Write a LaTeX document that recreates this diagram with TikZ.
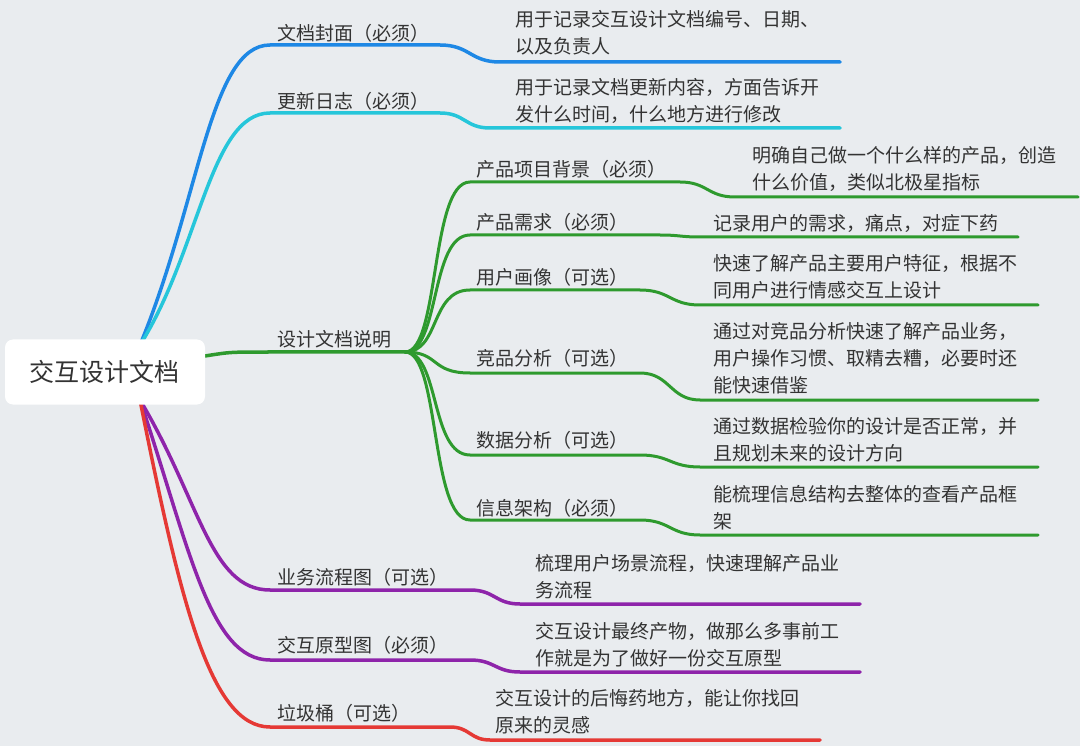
\documentclass[tikz,border=0pt]{standalone}
\usepackage{fontspec}
\setmainfont{Noto Sans CJK SC}
\begin{document}
\begin{tikzpicture}[x=1pt,y=-1pt,
  txt/.style={anchor=west,inner sep=0pt,text=black!80,font=\fontsize{19}{27}\selectfont,align=left},
  br/.style={line width=3.5pt,line cap=round},
  sb/.style={line width=3pt,line cap=round}]
\definecolor{bg}{HTML}{E9ECEF}
\definecolor{cb}{HTML}{1E88E5}\definecolor{cc}{HTML}{26C6DA}
\definecolor{cg}{HTML}{2E9A2E}\definecolor{cp}{HTML}{8E24AA}\definecolor{cr}{HTML}{E53935}
\fill[bg] (0,0) rectangle (1080,746);
\useasboundingbox (0,0) rectangle (1080,746);
\coordinate (rt) at (140,345); \coordinate (rb) at (140,400); \coordinate (rr) at (205,356);
\draw[br,cb] (rt) .. controls (200,200) and (210,45) .. (270,45) -- (440,45) .. controls (470,45) and (470,62) .. (500,62) -- (840,62);
\draw[br,cc] (rt) .. controls (200,250) and (210,113) .. (270,113) -- (440,113) .. controls (465,113) and (465,128) .. (490,128) -- (840,128);
\draw[br,cg] (rr) .. controls (230,352) .. (270,352) -- (405,352);
\foreach \y/\a/\b/\e/\d in {182/680/735/1078/15, 235/660/700/1018/2, 290/640/700/1038/15, 373/640/700/1038/27, 455/640/700/1038/12, 520/640/700/1038/15}{
  \draw[sb,cg] (405,352) .. controls (440,352) and (430,\y) .. (470,\y) -- (\a,\y) .. controls ({(\a+\b)/2},\y) and ({(\a+\b)/2},{\y+\d}) .. (\b,{\y+\d}) -- (\e,{\y+\d});}
\draw[br,cp] (rb) .. controls (200,500) and (210,590) .. (270,590) -- (470,590) .. controls (495,590) and (495,604) .. (520,604) -- (860,604);
\draw[br,cp] (rb) .. controls (190,550) and (210,660) .. (270,660) -- (470,660) .. controls (495,660) and (495,672) .. (520,672) -- (860,672);
\draw[br,cr] (rb) .. controls (180,600) and (210,727) .. (270,727) -- (450,727) .. controls (470,727) and (470,740) .. (490,740) -- (820,740);
\node[fill=white,rounded corners=8pt,minimum width=200pt,minimum height=65pt,font=\fontsize{25}{30}\selectfont,text=black!80] (root) at (105,372) {交互设计文档};
\node[txt] (a1) at (277,33) {文档封面（必须）};
\node[txt] (a1c) at (515,33) {用于记录交互设计文档编号、日期、\\以及负责人};
\node[txt] (a2) at (277,101) {更新日志（必须）};
\node[txt] (a2c) at (515,101) {用于记录文档更新内容，方面告诉开\\发什么时间，什么地方进行修改};
\node[txt] (a3) at (277,339) {设计文档说明};
\node[txt] (b1) at (476,169) {产品项目背景（必须）};
\node[txt] (b1c) at (752,169) {明确自己做一个什么样的产品，创造\\什么价值，类似北极星指标};
\node[txt] (b2) at (476,222) {产品需求（必须）};
\node[txt] (b2c) at (713,223) {记录用户的需求，痛点，对症下药};
\node[txt] (b3) at (476,277) {用户画像（可选）};
\node[txt] (b3c) at (713,277) {快速了解产品主要用户特征，根据不\\同用户进行情感交互上设计};
\node[txt] (b4) at (476,358) {竞品分析（可选）};
\node[txt] (b4c) at (713,358) {通过对竞品分析快速了解产品业务，\\用户操作习惯、取精去糟，必要时还\\能快速借鉴};
\node[txt] (b5) at (476,440) {数据分析（可选）};
\node[txt] (b5c) at (713,440) {通过数据检验你的设计是否正常，并\\且规划未来的设计方向};
\node[txt] (b6) at (476,508) {信息架构（必须）};
\node[txt] (b6c) at (713,508) {能梳理信息结构去整体的查看产品框\\架};
\node[txt] (a4) at (277,577) {业务流程图（可选）};
\node[txt] (a4c) at (535,577) {梳理用户场景流程，快速理解产品业\\务流程};
\node[txt] (a5) at (277,645) {交互原型图（必须）};
\node[txt] (a5c) at (535,645) {交互设计最终产物，做那么多事前工\\作就是为了做好一份交互原型};
\node[txt] (a6) at (277,713) {垃圾桶（可选）};
\node[txt] (a6c) at (495,712) {交互设计的后悔药地方，能让你找回\\原来的灵感};
\end{tikzpicture}
\end{document}
